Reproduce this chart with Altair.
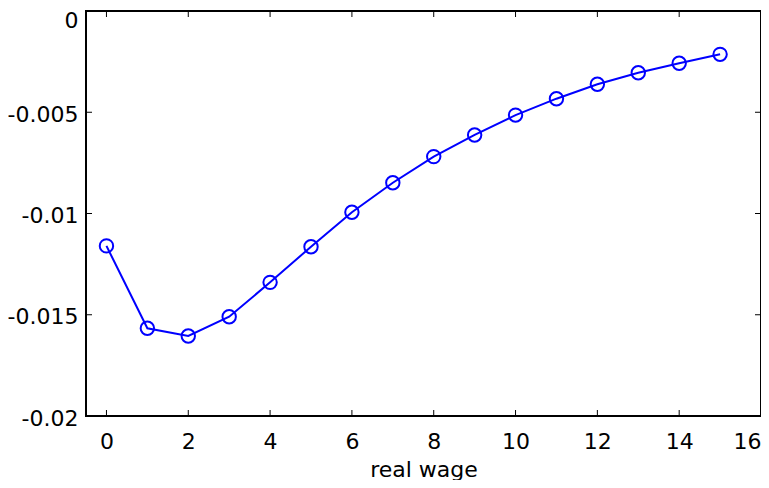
import altair as alt
import pandas as pd

x_vals = list(range(16))
y_vals = [-0.01160, -0.01567, -0.01605, -0.01510, -0.01340, -0.01164, -0.00994,
          -0.00848, -0.00719, -0.00612, -0.00514, -0.00433, -0.00362, -0.00305,
          -0.00258, -0.00214]
x_ticks = [0, 2, 4, 6, 8, 10, 12, 14, 16]
y_ticks = [-0.02, -0.015, -0.01, -0.005, 0]
x_title = "real wage"

df = pd.DataFrame({"x": x_vals, "y": y_vals})
xt = pd.DataFrame({"v": x_ticks})
yt = pd.DataFrame({"v": y_ticks})

FONT = "DejaVu Sans"
W, H = 675, 405
BLUE = "#0000ff"

xscale = alt.Scale(domain=[-0.5, 16], nice=False, zero=False)
yscale = alt.Scale(domain=[-0.02, 0], nice=False, zero=False)

xaxis = alt.Axis(values=x_ticks, format="d", ticks=False, tickSize=0, domain=False,
                 grid=False, labelFont=FONT, labelFontSize=22, labelColor="black",
                 labelPadding=15, labelFlush=True, labelOverlap=False,
                 title=x_title, titleFont=FONT, titleFontSize=22,
                 titleFontWeight="normal", titleColor="black", titlePadding=7)
yaxis = alt.Axis(values=y_ticks, ticks=False, tickSize=0, domain=False, grid=False,
                 labelFont=FONT, labelFontSize=22, labelColor="black",
                 labelPadding=8, labelFlush=False, labelOverlap=False,
                 labelOffset={"condition": {"test": "datum.value == 0", "value": 9}, "value": 2},
                 labelExpr="replace(format(datum.value, '~g'), '\u2212', '-')",
                 title=None)

base = alt.Chart(df)
line = base.mark_line(color=BLUE, strokeWidth=2).encode(
    x=alt.X("x:Q", scale=xscale, axis=xaxis),
    y=alt.Y("y:Q", scale=yscale, axis=yaxis),
)
pts = base.mark_point(shape="circle", filled=False, color=BLUE, size=180,
                      strokeWidth=2, opacity=1).encode(
    x=alt.X("x:Q", scale=xscale),
    y=alt.Y("y:Q", scale=yscale),
)

tb = alt.Chart(xt).mark_rule(color="black", strokeWidth=1).encode(
    x=alt.X("v:Q", scale=xscale), y=alt.value(H), y2=alt.value(H - 6))
tt = alt.Chart(xt).mark_rule(color="black", strokeWidth=1).encode(
    x=alt.X("v:Q", scale=xscale), y=alt.value(0), y2=alt.value(6))
tl = alt.Chart(yt).mark_rule(color="black", strokeWidth=1).encode(
    y=alt.Y("v:Q", scale=yscale), x=alt.value(0), x2=alt.value(6))
tr = alt.Chart(yt).mark_rule(color="black", strokeWidth=1).encode(
    y=alt.Y("v:Q", scale=yscale), x=alt.value(W), x2=alt.value(W - 6))

chart = alt.layer(tb, tt, tl, tr, line, pts).properties(
    width=W, height=H,
    padding={"left": 78, "top": 3, "right": 0, "bottom": 64},
    autosize=alt.AutoSizeParams(type="none"),
).configure_view(stroke="black", strokeWidth=2)

chart.save("out.html", embed_options={"renderer": "svg", "actions": False})
